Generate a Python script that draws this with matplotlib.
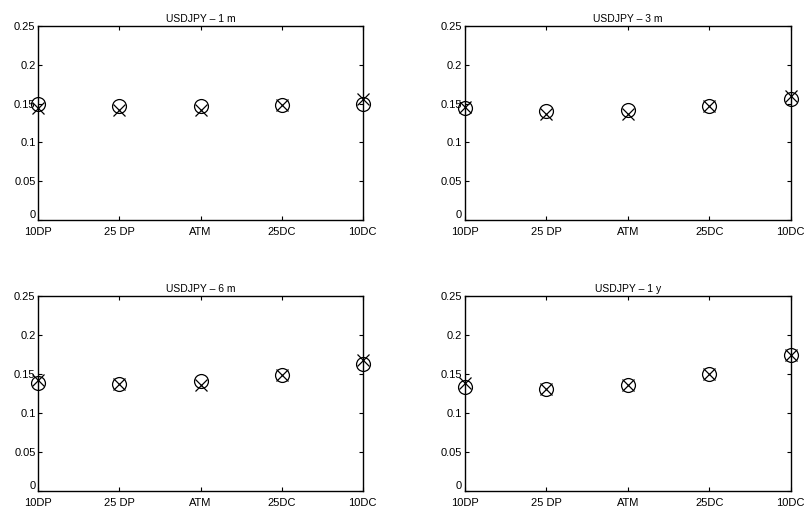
import matplotlib
matplotlib.use("Agg")
import matplotlib.pyplot as plt

plt.rcParams['font.family'] = ['Liberation Sans', 'DejaVu Sans']

categories = ['10DP', '25 DP', 'ATM', '25DC', '10DC']
titles = ['USDJPY \u2013 1 m', 'USDJPY \u2013 3 m', 'USDJPY \u2013 6 m', 'USDJPY \u2013 1 y']

# circles (market) and crosses (model) per tenor
circ_1m = [0.1495, 0.147, 0.147, 0.148, 0.150]
cross_1m = [0.144, 0.142, 0.142, 0.148, 0.156]
circ_3m = [0.144, 0.141, 0.142, 0.147, 0.156]
cross_3m = [0.146, 0.137, 0.137, 0.147, 0.160]
circ_6m = [0.1385, 0.137, 0.141, 0.148, 0.163]
cross_6m = [0.142, 0.137, 0.136, 0.148, 0.168]
circ_1y = [0.133, 0.131, 0.1355, 0.1496, 0.174]
cross_1y = [0.138, 0.131, 0.1355, 0.1496, 0.174]

yticks = [0, 0.05, 0.1, 0.15, 0.2, 0.25]
ytick_labels = ['0', '0.05', '0.1', '0.15', '0.2', '0.25']

circles = [circ_1m, circ_3m, circ_6m, circ_1y]
crosses = [cross_1m, cross_3m, cross_6m, cross_1y]

fig = plt.figure(figsize=(8.08, 5.13), dpi=100)
positions = [
    [0.0474, 0.5717, 0.4015, 0.377],
    [0.5755, 0.5717, 0.4030, 0.377],
    [0.0474, 0.0435, 0.4015, 0.3795],
    [0.5755, 0.0435, 0.4030, 0.3795],
]
x = list(range(1, len(categories) + 1))
for pos, title, c, k in zip(positions, titles, circles, crosses):
    ax = fig.add_axes(pos)
    ax.plot(x, c, linestyle='none', marker='o', markersize=10, markerfacecolor='none',
            markeredgecolor='black', markeredgewidth=0.9, clip_on=False, zorder=3)
    ax.plot(x, k, linestyle='none', marker='x', markersize=8, color='black',
            markeredgewidth=0.9, clip_on=False, zorder=3)
    ax.set_xlim(1, 5)
    ax.set_ylim(0, 0.25)
    ax.set_xticks(x)
    ax.set_xticklabels(categories, fontsize=8)
    ax.set_yticks(yticks)
    ax.set_yticklabels(ytick_labels, fontsize=8)
    ax.tick_params(direction='in', top=True, right=True, length=3, width=0.8)
    ax.tick_params(axis='x', pad=5)
    ax.tick_params(axis='y', pad=2)
    ax.get_yticklabels()[0].set_verticalalignment('bottom')
    for s in ax.spines.values():
        s.set_linewidth(1.0)
    ax.set_title(title, fontsize=7.5, pad=3)

fig.savefig('out.png', dpi=100)
